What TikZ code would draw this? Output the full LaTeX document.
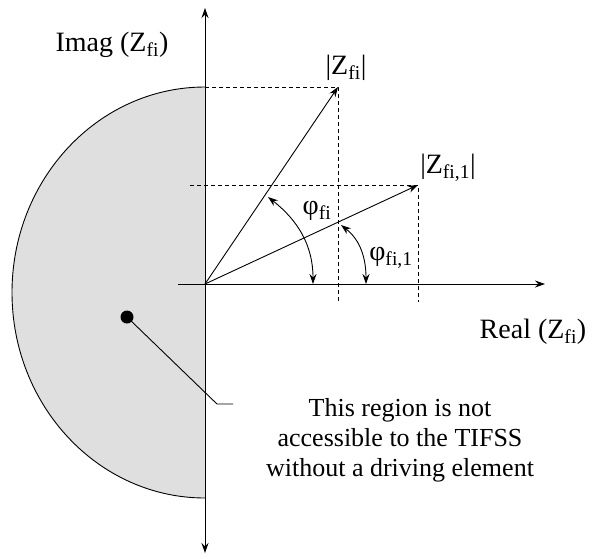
\documentclass[tikz,border=0pt]{standalone}
\usepackage{fontspec}
\setmainfont{Liberation Serif}
\newfontfamily\tmsfont{Liberation Serif}
\usetikzlibrary{arrows.meta}
\begin{document}
\begin{tikzpicture}[x=1pt,y=-1pt,
  line width=0.9pt,
  tip/.style={-{Stealth[length=10pt,width=7pt]}},
  dtip/.style={{Stealth[length=10pt,width=7pt]}-{Stealth[length=10pt,width=7pt]}},
  guide/.style={dashed,line width=0.7pt,dash pattern=on 4pt off 3pt},
  lbl/.style={inner sep=0pt,font=\tmsfont\fontsize{28}{32}\selectfont},
  body/.style={inner sep=0pt,align=center,font=\tmsfont\fontsize{26}{30}\selectfont}]
\useasboundingbox (0,0) rectangle (595,558);
% region
\fill[gray!25] (205,87) arc[start angle=90,end angle=270,x radius=193,y radius=-205.5] -- cycle;
\draw (205,87) arc[start angle=90,end angle=270,x radius=193,y radius=-205.5];
% coordinates
\coordinate (O) at (205,284);
\coordinate (ytop) at (205,8);
\coordinate (ybot) at (205,553);
\coordinate (xl) at (178,284);
\coordinate (xr) at (545,284);
\coordinate (Z) at (338,87);
\coordinate (Z1) at (418,185);
\coordinate (Zy) at (205,87);
\coordinate (Zx) at (338,302);
\coordinate (Z1y) at (190,185);
\coordinate (Z1x) at (418,302);
\coordinate (a1s) at (268,197);
\coordinate (a1e) at (313,284);
\coordinate (a2s) at (341,225);
\coordinate (a2e) at (366,284);
\coordinate (bend) at (217,404);
\coordinate (lend) at (233,404);
% axes
\draw[dtip] (ybot) -- (ytop);
\draw[tip] (xl) -- (xr);
% guides
\draw[guide] (Zy) -- (Z) -- (Zx);
\draw[guide] (Z1y) -- (Z1) -- (Z1x);
% vectors
\draw[tip] (O) -- (Z);
\draw[tip] (O) -- (Z1);
% angle arcs
\draw[dtip] (a1s) to[out=-38,in=90] (a1e);
\draw[dtip] (a2s) to[out=-38,in=90] (a2e);
% dot and pointer
\node[circle,fill=black,inner sep=0pt,minimum size=13pt] (dot) at (127,317) {};
\draw (dot.center) -- (bend) -- (lend);
% labels
\node[lbl] (imag) at (112,45) {Imag (Z\textsubscript{fi})};
\node[lbl] (real) at (533,332) {Real (Z\textsubscript{fi})};
\node[lbl] (zfi) at (346,68) {|Z\textsubscript{fi}|};
\node[lbl] (zfi1) at (448,168) {|Z\textsubscript{fi,1}|};
\node[lbl] (phi) at (317,211) {φ\textsubscript{fi}};
\node[lbl] (phi1) at (391,258) {φ\textsubscript{fi,1}};
\node[body] (note) at (400,440) {This region is not\\accessible to the TIFSS\\without a driving element};
\end{tikzpicture}
\end{document}
